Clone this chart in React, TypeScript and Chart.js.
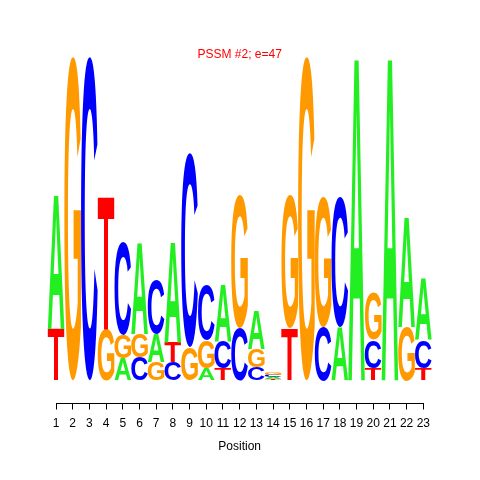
import React, { useEffect, useRef } from "react";
import { Chart, registerables } from "chart.js";

Chart.register(...registerables);

// Tick labels (positions)
const positions = [
  "1", "2", "3", "4", "5", "6", "7", "8", "9", "10", "11", "12",
  "13", "14", "15", "16", "17", "18", "19", "20", "21", "22", "23",
];

// Letter heights (bits) per position
const A = [0.83, 0, 0, 0, 0.134, 0.57, 0.173, 0.619, 0, 0.074, 0.353, 0, 0.235, 0.012, 0, 0, 0, 0.328, 2.0, 0, 2.0, 0.681, 0.384];
const C = [0, 0, 1.99, 0, 0.576, 0.142, 0.328, 0.111, 1.195, 0.341, 0.167, 0.322, 0.08, 0.012, 0, 0, 0.328, 0.805, 0, 0.173, 0, 0, 0.173];
const G = [0, 1.99, 0, 0.316, 0.142, 0.143, 0.111, 0, 0.204, 0.173, 0, 0.817, 0.111, 0.013, 0.817, 1.99, 0.805, 0, 0, 0.291, 0, 0.328, 0];
const T = [0.316, 0, 0, 0.824, 0, 0, 0, 0.124, 0, 0, 0.074, 0, 0, 0.009, 0.322, 0, 0, 0, 0, 0.074, 0, 0, 0.074];

const LETTERS = ["A", "C", "G", "T"];
const COLORS: Record<string, string> = {
  A: "#22EE22",
  C: "#0000FF",
  G: "#FF9900",
  T: "#FF0000",
};

function buildRankedDatasets() {
  const series: Record<string, number[]> = { A, C, G, T };
  const rankValues: number[][] = [[], [], [], []];
  const rankLetters: string[][] = [[], [], [], []];
  for (let i = 0; i < positions.length; i++) {
    const order = LETTERS.slice().sort((a, b) => series[a][i] - series[b][i]);
    order.forEach((L, r) => {
      rankValues[r].push(series[L][i]);
      rankLetters[r].push(L);
    });
  }
  return rankValues.map((vals, r) => ({
    label: "rank" + r,
    data: vals,
    letters: rankLetters[r],
    backgroundColor: "rgba(0,0,0,0)",
    borderWidth: 0,
    stack: "logo",
    categoryPercentage: 1,
    barPercentage: 1,
  }));
}

function drawLetter(ctx: CanvasRenderingContext2D, letter: string, x0: number, y0: number, w: number, h: number, color: string) {
  ctx.save();
  ctx.font = "bold 100px 'Liberation Sans', Arial, sans-serif";
  ctx.textAlign = "left";
  ctx.textBaseline = "alphabetic";
  const m = ctx.measureText(letter);
  const inkW = m.actualBoundingBoxLeft + m.actualBoundingBoxRight;
  const inkH = m.actualBoundingBoxAscent + m.actualBoundingBoxDescent;
  ctx.translate(x0, y0);
  ctx.scale(w / inkW, h / inkH);
  ctx.fillStyle = color;
  ctx.fillText(letter, m.actualBoundingBoxLeft, m.actualBoundingBoxAscent);
  ctx.restore();
}

const logoPlugin = {
  id: "logoLetters",
  afterDatasetsDraw(chart: any) {
    const ctx = chart.ctx;
    chart.data.datasets.forEach((ds: any, d: number) => {
      const meta = chart.getDatasetMeta(d);
      meta.data.forEach((el: any, i: number) => {
        const p = el.getProps(["x", "y", "base", "width"], true);
        const h = p.base - p.y;
        if (h <= 0.3) return;
        const L = ds.letters[i];
        drawLetter(ctx, L, p.x - p.width / 2, p.y, p.width, h, COLORS[L]);
      });
    });
  },
  afterDraw(chart: any) {
    const xs = chart.scales.x;
    const ctx = chart.ctx;
    const x1 = xs.getPixelForTick(0);
    const x2 = xs.getPixelForTick(positions.length - 1);
    const y = Math.round(xs.top) + 0.5;
    ctx.save();
    ctx.strokeStyle = "#000";
    ctx.lineWidth = 1;
    ctx.beginPath();
    ctx.moveTo(Math.round(x1) + 0.5, y);
    ctx.lineTo(Math.round(x2) + 0.5, y);
    ctx.stroke();
    ctx.restore();
  },
};

export default function App() {
  const ref = useRef<HTMLCanvasElement | null>(null);
  useEffect(() => {
    if (!ref.current) return;
    Chart.defaults.font.family = "'Liberation Sans', Arial, sans-serif";
    const chart = new Chart(ref.current, {
      type: "bar",
      data: {
        labels: positions,
        datasets: buildRankedDatasets() as any,
      },
      options: {
        responsive: false,
        animation: false,
        layout: { padding: { left: 47.66, right: 48.34, top: 0, bottom: 22.2 } },
        plugins: {
          legend: { display: false },
          tooltip: { enabled: false },
          title: {
            display: true,
            text: "PSSM #2; e=47",
            color: "#FF0000",
            font: { size: 12, weight: "normal" },
            padding: { top: 47, bottom: 0 },
          },
        },
        scales: {
          x: {
            stacked: true,
            offset: true,
            grid: {
              offset: false,
              drawOnChartArea: false,
              drawTicks: true,
              tickLength: 7,
              color: "#000",
              lineWidth: 1,
            },
            border: { display: false },
            ticks: {
              color: "#000",
              font: { size: 12 },
              padding: 7,
              autoSkip: false,
              maxRotation: 0,
              minRotation: 0,
            },
            title: {
              display: true,
              text: "Position",
              color: "#000",
              font: { size: 12 },
              padding: { top: 1.5, bottom: 4 },
            },
          },
          y: {
            stacked: true,
            display: false,
            min: -0.1362,
            max: 1.96,
          },
        },
      },
      plugins: [logoPlugin],
    });
    return () => chart.destroy();
  }, []);
  return (
    <div style={{ position: "fixed", left: 0, top: 0, width: 480, height: 480, background: "#fff" }}>
      <canvas ref={ref} width={480} height={480} style={{ display: "block" }} />
    </div>
  );
}
